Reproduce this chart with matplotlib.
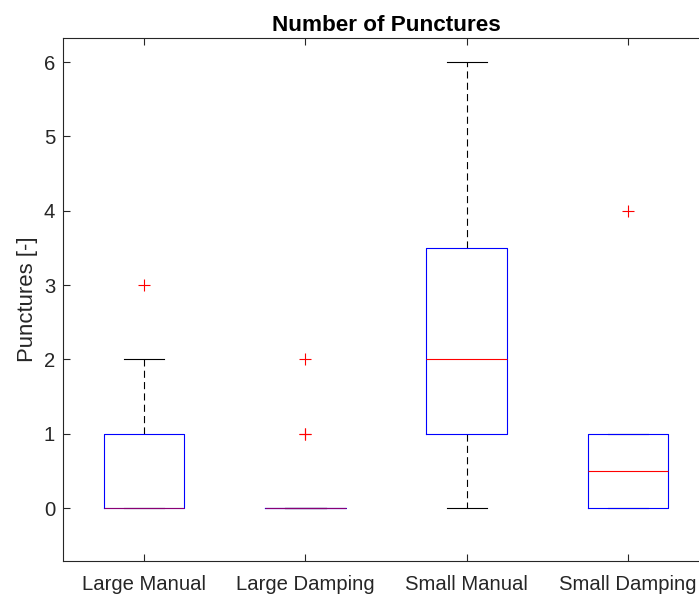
import matplotlib.pyplot as plt

plt.rcParams['font.family'] = ['Liberation Sans', 'DejaVu Sans']

# Summary statistics per configuration
labels = ['Large Manual', 'Large Damping', 'Small Manual', 'Small Damping']
q1 = [0, 0, 1, 0]
med = [0, 0, 2, 0.5]
q3 = [1, 0, 3.5, 1]
whislo = [0, 0, 0, 0]
whishi = [2, 0, 6, 1]
fliers = [[3], [1, 1, 2], [], [4]]

stats = []
for i in range(len(labels)):
    stats.append(dict(label=labels[i], q1=q1[i], med=med[i], q3=q3[i],
                      whislo=whislo[i], whishi=whishi[i], fliers=fliers[i]))

fig = plt.figure(figsize=(6.99, 5.96), dpi=100)
# axes run a bit past the right edge of the figure
ax = fig.add_axes([0.0908, 0.0587, 0.923, 0.8775])

axcol = '#262626'
lw = 0.8
bp = ax.bxp(stats, positions=[1, 2, 3, 4], widths=0.5,
            boxprops=dict(color='blue', linewidth=lw),
            medianprops=dict(color='red', linewidth=lw),
            whiskerprops=dict(color='black', linewidth=lw, linestyle=(0, (6.4, 3.8))),
            capprops=dict(color='black', linewidth=lw),
            capwidths=0.25,
            flierprops=dict(marker='+', color='red', markeredgecolor='red',
                            markerfacecolor='red', markersize=9,
                            markeredgewidth=0.8, linestyle='none'))

# boxes sit over the caps, medians over the boxes
for c in bp['caps']:
    c.set_zorder(1.9)
for w in bp['whiskers']:
    w.set_zorder(1.9)
for b in bp['boxes']:
    b.set_zorder(2.1)
for i, m in enumerate(bp['medians']):
    m.set_zorder(2.2)
    if med[i] == q1[i] or med[i] == q3[i]:
        m.set_alpha(0.55)
for f in bp['fliers']:
    f.set_zorder(2.3)

ax.set_xlim(0.5, 4.5)
ax.set_ylim(-0.713, 6.323)
ax.set_yticks([0, 1, 2, 3, 4, 5, 6])
ax.set_xticks([1, 2, 3, 4])
ax.set_xticklabels(labels)

ax.tick_params(direction='in', top=True, right=True, labelsize=14.6,
               color=axcol, labelcolor=axcol, length=5, width=0.8, pad=6)
ax.tick_params(axis='x', pad=10)
for s in ax.spines.values():
    s.set_color(axcol)
    s.set_linewidth(0.8)

ax.set_ylabel('Punctures [-]', fontsize=15.9, color=axcol, labelpad=4)
ax.set_title('Number of Punctures', fontsize=16.2, fontweight='bold', pad=5)

fig.savefig('out.png', dpi=100)
